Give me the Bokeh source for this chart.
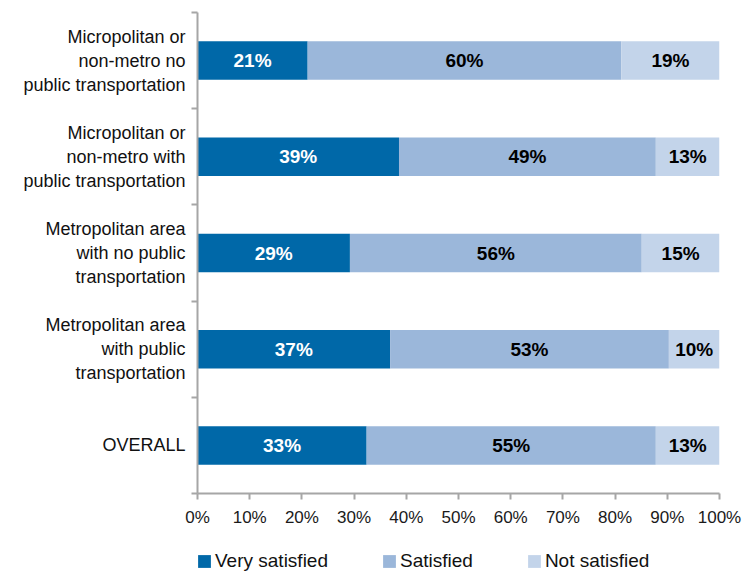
import numpy as np
from bokeh.plotting import figure
from bokeh.layouts import column
from bokeh.models import (Range1d, FixedTicker, LinearAxis, Legend, LegendItem,
                          ColumnDataSource)
from bokeh.core.properties import value
from bokeh.embed import file_html
from bokeh.resources import INLINE

categories = [
    "Micropolitan or\nnon-metro no\npublic transportation",
    "Micropolitan or\nnon-metro with\npublic transportation",
    "Metropolitan area\nwith no public\ntransportation",
    "Metropolitan area\nwith public\ntransportation",
    "OVERALL",
]
very_satisfied = [21.1, 38.6, 29.2, 36.9, 32.4]
satisfied = [60.1, 49.2, 55.9, 53.4, 55.4]
not_satisfied = [18.8, 12.2, 14.9, 9.7, 12.2]
very_labels = ["21%", "39%", "29%", "37%", "33%"]
sat_labels = ["60%", "49%", "56%", "53%", "55%"]
not_labels = ["19%", "13%", "15%", "10%", "13%"]
series_names = ["Very satisfied", "Satisfied", "Not satisfied"]
x_ticks = [0, 10, 20, 30, 40, 50, 60, 70, 80, 90, 100]
x_tick_labels = ["0%", "10%", "20%", "30%", "40%", "50%", "60%", "70%", "80%", "90%", "100%"]

colors = ["#0068A8", "#9BB7DA", "#C3D4EA"]
FONT = "Liberation Sans"
AXIS_COLOR = "#A6A6A6"

n = len(categories)
ypos = np.arange(n, 0, -1).astype(float)

v = np.array(very_satisfied)
s = np.array(satisfied)
ns = np.array(not_satisfied)

src = ColumnDataSource(dict(y=ypos, v=v, s=s, ns=ns))

p = figure(width=746, height=540, output_backend="svg", toolbar_location=None,
           x_range=Range1d(0, 100), y_range=Range1d(0.5, n + 0.5),
           min_border_left=197, min_border_right=27, min_border_top=12,
           min_border_bottom=47)
p.outline_line_color = None
p.grid.visible = False

renderers = p.hbar_stack(["v", "s", "ns"], y="y", height=0.4, color=colors,
                         line_color=None, source=src)

lab_src = ColumnDataSource(dict(
    x=np.concatenate([v / 2, v + s / 2, v + s + ns / 2]),
    y=np.concatenate([ypos, ypos, ypos]),
    t=very_labels + sat_labels + not_labels,
    c=["white"] * n + ["black"] * n + ["black"] * n,
))
p.text(x="x", y="y", text="t", text_color="c", source=lab_src,
       text_align="center", text_baseline="middle",
       text_font=value(FONT), text_font_size="19px", text_font_style="bold")

xa = p.xaxis[0]
xa.ticker = FixedTicker(ticks=x_ticks)
xa.major_label_overrides = {t: l for t, l in zip(x_ticks, x_tick_labels)}
xa.axis_line_color = AXIS_COLOR
xa.axis_line_width = 2
xa.major_tick_line_color = AXIS_COLOR
xa.major_tick_line_width = 2
xa.major_tick_out = 6
xa.major_tick_in = 0
xa.minor_tick_line_color = None
xa.major_label_text_font = FONT
xa.major_label_text_font_size = "17px"
xa.major_label_text_color = "#1a1a1a"
xa.major_label_standoff = 8

bticks = [float(b) for b in np.arange(n + 1) + 0.5]
ya = p.yaxis[0]
ya.ticker = FixedTicker(ticks=bticks)
ya.major_label_overrides = {b: "" for b in bticks}
ya.axis_line_color = AXIS_COLOR
ya.axis_line_width = 2
ya.major_tick_line_color = AXIS_COLOR
ya.major_tick_line_width = 2
ya.major_tick_out = 6
ya.major_tick_in = 0
ya.minor_tick_line_color = None
ya.major_label_standoff = 0

la = LinearAxis(ticker=FixedTicker(ticks=[int(y) for y in ypos]))
la.major_label_overrides = {int(y): c for y, c in zip(ypos, categories)}
la.axis_line_color = None
la.major_tick_line_color = None
la.minor_tick_line_color = None
la.major_label_text_font = FONT
la.major_label_text_font_size = "18px"
la.major_label_text_color = "#111111"
la.major_label_standoff = 0
p.add_layout(la, "left")

# legend strip below the chart (same series, renderers hidden; legend only)
lf = figure(width=746, height=33, output_backend="svg", toolbar_location=None,
            x_axis_type=None, y_axis_type=None,
            x_range=Range1d(0, 100), y_range=Range1d(0.5, n + 0.5), min_border=0)
lf.outline_line_color = None
lf.grid.visible = False
leg_renderers = lf.hbar_stack(["v", "s", "ns"], y="y", height=0.4, color=colors,
                              line_color=None, source=src)
for r in leg_renderers:
    r.visible = False

legend = Legend(items=[LegendItem(label=nm, renderers=[r])
                       for nm, r in zip(series_names, leg_renderers)],
                orientation="horizontal", location=(-1, 1))
legend.border_line_color = None
legend.background_fill_alpha = 0
legend.inactive_fill_alpha = 0
legend.label_text_font = FONT
legend.label_text_font_size = "19px"
legend.label_text_color = "#111111"
legend.glyph_width = 16
legend.glyph_height = 16
legend.label_standoff = 3
legend.spacing = 53
legend.padding = 0
legend.margin = 0
lf.add_layout(legend, "center")

open("out.html", "w").write(file_html(column(p, lf, spacing=0), INLINE))
